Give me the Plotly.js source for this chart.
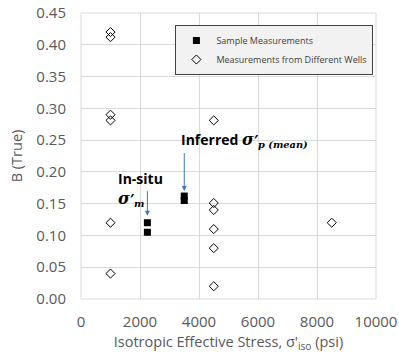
<!DOCTYPE html>
<html><head><meta charset="utf-8">
<script src="https://cdn.plot.ly/plotly-3.0.1.min.js"></script>
<style>body{margin:0;background:#fff}#c{width:399px;height:354px}</style>
</head><body><div id="c"></div>
<script>
const sampleX = [2250, 2250, 3500, 3500];
const sampleY = [0.12, 0.105, 0.162, 0.155];
const wellsX = [1000, 1000, 1000, 1000, 1000, 1000, 4500, 4500, 4500, 4500, 4500, 4500, 8500];
const wellsY = [0.42, 0.412, 0.29, 0.281, 0.12, 0.04, 0.281, 0.151, 0.14, 0.11, 0.08, 0.02, 0.12];
const xTicks = [0, 2000, 4000, 6000, 8000, 10000];
const yTicks = [0, 0.05, 0.10, 0.15, 0.20, 0.25, 0.30, 0.35, 0.40, 0.45];

const traces = [
  {x: sampleX, y: sampleY, mode: 'markers', type: 'scatter', name: 'Sample Measurements',
   marker: {symbol: 'square', size: 7, color: '#000'}},
  {x: wellsX, y: wellsY, mode: 'markers', type: 'scatter', name: 'Measurements from Different Wells',
   marker: {symbol: 'diamond-open', size: 7, color: '#000', line: {width: 1, color: '#000'}}}
];
const sig = '<span style="font-family:DejaVu Serif;font-size:16px"><b><i>σ</i></b></span>';
const sub = s => '<sub><span style="font-family:DejaVu Serif"><b><i>' + s + '</i></b></span></sub>';
const layout = {
  width: 399, height: 354,
  margin: {l: 81, r: 23, t: 13, b: 55},
  paper_bgcolor: '#fff', plot_bgcolor: '#fff',
  font: {family: 'Open Sans, sans-serif', color: '#595959', size: 15},
  showlegend: true,
  legend: {x: 0.32, y: 0.958, xanchor: 'left', yanchor: 'top', bgcolor: '#f2f2f2',
    bordercolor: '#404040', borderwidth: 1, font: {size: 9, color: '#404040'},
    tracegroupgap: 0},
  xaxis: {range: [0, 10000], tickvals: xTicks, ticktext: xTicks.map(String),
    showgrid: true, gridcolor: '#d9d9d9', zeroline: false, showline: false,
    ticks: '', ticklabelstandoff: 12, fixedrange: true,
    title: {text: "Isotropic Effective Stress, σ'<sub>iso</sub> (psi)", font: {size: 14.5, color: '#595959'}, standoff: 6}},
  yaxis: {range: [0, 0.45], tickvals: yTicks, ticktext: yTicks.map(v => v.toFixed(2)),
    showgrid: true, gridcolor: '#d9d9d9', zeroline: false, showline: false,
    ticks: '', ticklabelstandoff: 14, fixedrange: true,
    title: {text: 'B (True)', font: {size: 14.5, color: '#595959'}, standoff: 10}},
  shapes: [
    {type: 'line', xref: 'paper', yref: 'paper', x0: 0, x1: 0, y0: 0, y1: 1, line: {color: '#d9d9d9', width: 1}},
    {type: 'line', xref: 'paper', yref: 'paper', x0: 1, x1: 1, y0: 0, y1: 1, line: {color: '#d9d9d9', width: 1}},
    {type: 'line', xref: 'paper', yref: 'paper', x0: 0, x1: 1, y0: 1, y1: 1, line: {color: '#d9d9d9', width: 1}},
    {type: 'line', xref: 'paper', yref: 'paper', x0: 0, x1: 1, y0: 0, y1: 0, line: {color: '#d9d9d9', width: 1}}
  ],
  annotations: [
    {x: 2250, y: 0.131, ax: 2250, ay: 0.172, xref: 'x', yref: 'y', axref: 'x', ayref: 'y',
     text: '', showarrow: true, arrowhead: 2, arrowsize: 1, arrowwidth: 1, arrowcolor: '#4472c4'},
    {x: 3500, y: 0.170, ax: 3500, ay: 0.232, xref: 'x', yref: 'y', axref: 'x', ayref: 'y',
     text: '', showarrow: true, arrowhead: 2, arrowsize: 1, arrowwidth: 1, arrowcolor: '#4472c4'},
    {x: 3320, y: 0.25, xref: 'x', yref: 'y', xanchor: 'left', yanchor: 'middle', showarrow: false,
     text: '<b>Inferred</b> ' + sig + "<b>′</b>" + sub('p (mean)'),
     font: {size: 14, color: '#000'}},
    {x: 1186, y: 0.19, xref: 'x', yref: 'y', xanchor: 'left', yanchor: 'middle', showarrow: false,
     text: '<b>In-situ</b>', font: {size: 14, color: '#000'}},
    {x: 1186, y: 0.158, xref: 'x', yref: 'y', xanchor: 'left', yanchor: 'middle', showarrow: false,
     text: sig + "<b>′</b>" + sub('m'), font: {size: 14, color: '#000'}}
  ]
};
Plotly.newPlot('c', traces, layout, {displayModeBar: false, staticPlot: true});
</script></body></html>
